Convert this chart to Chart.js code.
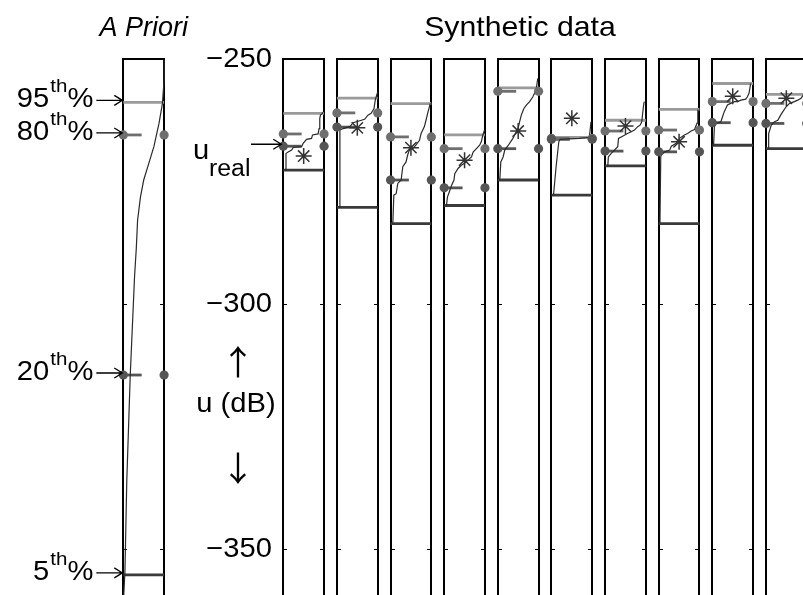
<!DOCTYPE html>
<html><head><meta charset="utf-8">
<script src="https://cdn.jsdelivr.net/npm/chart.js@4.4.1/dist/chart.umd.min.js"></script>
<style>html,body{margin:0;padding:0;background:#fff;overflow:hidden}#wrap{width:803px;height:595px;position:relative}</style>
</head><body><div id="wrap"><canvas id="c" width="803" height="595"></canvas></div>
<script>
// ---------- data ----------
const categories = ['A Priori','1','2','3','4','5','6','7','8','9','10'];
const slots = [-2.983,0,1,2,3,4,5,6,7,8,9];           // panel positions (panel units)
const pct95 = [-258.85,-261.1,-258.0,-259.1,-265.5,-255.9,-266.0,-262.5,-260.3,-255.0,-257.2];
const pct80 = [-265.5,-265.3,-261.0,-265.9,-268.3,-256.6,-266.2,-264.7,-264.5,-258.7,-259.06];
const pct20 = [-314.5,-267.8,-263.9,-274.7,-276.3,-268.3,-266.4,-268.8,-268.95,-263.0,-263.15];
const pct05 = [-355.3,-272.7,-280.3,-283.6,-279.9,-274.7,-277.8,-271.8,-283.6,-267.6,-268.3];
const uStar = [null,-269.8,-264.05,-268.1,-270.65,-264.7,-262.1,-263.7,-266.9,-257.6,-258.0];
const uReal = -267.4;
const yTicks = [-250,-300,-350];
const yTickLabels = ['\u2212250','\u2212300','\u2212350'];
const pctLabels = ['95','80','20','5'];

// cumulative curves: [probability, u (dB)]
const curvePrior = [[0.01,-359.6],[0.04,-354.5],[0.085,-336.1],[0.17,-314.5],[0.275,-294.5],[0.32,-288.4],[0.35,-282.9],[0.42,-278.2],[0.5,-274.7],[0.625,-271.3],[0.75,-267.9],[0.875,-263.15],[0.96,-259.06],[1.0,-254.3],[1.0,-250.2]];
const curve1 = [[0.066,-272.7],[0.066,-269.3],[0.12,-268.96],[0.205,-268.6],[0.244,-268.06],[0.449,-267.9],[0.488,-267.2],[0.571,-266.4],[0.693,-266.2],[0.717,-265.5],[0.854,-265.3],[0.878,-264.2],[0.895,-262.1],[0.912,-261.45],[0.96,-261.1],[0.976,-260.8]];
const curve2 = [[0.056,-280.3],[0.073,-264.5],[0.154,-264.2],[0.317,-263.8],[0.398,-263.0],[0.56,-262.6],[0.68,-262.3],[0.76,-261.45],[0.84,-261.1],[0.91,-260.1],[0.94,-258.4],[1.0,-256.7]];
const curve3 = [[0.056,-283.6],[0.08,-277.8],[0.137,-277.5],[0.178,-275.4],[0.259,-274.7],[0.3,-272.0],[0.38,-271.0],[0.42,-269.6],[0.46,-268.6],[0.54,-268.3],[0.62,-267.6],[0.71,-266.6],[0.75,-265.2],[0.83,-263.8],[0.87,-262.5],[0.91,-261.1],[0.976,-259.06]];
const curve4 = [[0.056,-279.9],[0.08,-278.2],[0.14,-276.8],[0.18,-275.8],[0.24,-274.7],[0.26,-273.4],[0.34,-272.35],[0.42,-271.7],[0.5,-271.3],[0.585,-270.65],[0.67,-270.0],[0.71,-269.0],[0.79,-268.3],[0.87,-267.6],[0.91,-266.9],[0.95,-265.5],[0.99,-264.5]];
const curve5 = [[0.049,-274.7],[0.073,-271.0],[0.13,-270.0],[0.17,-268.6],[0.25,-267.7],[0.37,-266.2],[0.43,-265.2],[0.495,-264.2],[0.536,-262.8],[0.576,-261.45],[0.64,-260.1],[0.70,-259.4],[0.78,-258.7],[0.86,-257.7],[0.94,-256.3],[0.98,-253.95]];
const curve6 = [[0.05,-277.8],[0.114,-272.0],[0.18,-266.9],[0.21,-266.4],[0.68,-266.2],[0.93,-266.0],[0.97,-262.8]];
const curve7 = [[0.066,-272.0],[0.08,-270.0],[0.146,-269.3],[0.23,-268.6],[0.31,-267.9],[0.33,-266.2],[0.43,-265.75],[0.55,-265.2],[0.63,-264.9],[0.72,-264.5],[0.80,-263.8],[0.86,-263.5],[0.90,-262.8],[0.94,-259.75],[0.96,-258.7]];
const curve8 = [[0.03,-283.6],[0.05,-270.0],[0.063,-269.6],[0.146,-268.95],[0.27,-268.6],[0.31,-267.8],[0.43,-267.2],[0.51,-266.2],[0.63,-265.5],[0.71,-265.2],[0.795,-264.7],[0.88,-264.4],[0.94,-263.1],[0.96,-260.3]];
const curve9 = [[0.03,-267.6],[0.05,-263.85],[0.09,-263.15],[0.21,-262.8],[0.25,-261.8],[0.29,-260.8],[0.33,-260.1],[0.37,-259.4],[0.45,-259.06],[0.54,-258.7],[0.62,-258.7],[0.70,-258.4],[0.82,-258.2],[0.86,-257.7],[0.90,-257.0],[0.94,-255.0]];
const curve10 = [[0.05,-268.3],[0.066,-265.2],[0.13,-263.5],[0.21,-262.8],[0.29,-262.5],[0.36,-261.45],[0.41,-260.8],[0.495,-259.75],[0.58,-259.06],[0.70,-258.7],[0.78,-258.4],[0.86,-258.0],[0.93,-257.2],[0.97,-256.0]];
const curves = [curvePrior,curve1,curve2,curve3,curve4,curve5,curve6,curve7,curve8,curve9,curve10];

// ---------- layout / style ----------
const panelW = 0.76, shortP = 0.45;
const X_MIN = -5.2825, X_MAX = 9.6905, Y_MAX = -250, Y_MIN = -359.4;
const C95 = '#9a9a9a', C80 = '#6f6f6f', C20 = '#555555', C05 = '#3a3a3a', CCURVE = '#2a2a2a';
const FONT = '"Liberation Sans", Arial, Helvetica, sans-serif';
const SX = 1.08;

const datasets = [];
function line(pts, color, w, order){
  datasets.push({data: pts, showLine:true, borderColor:color, borderWidth:w, pointRadius:0, pointHoverRadius:0, tension:0, order, borderCapStyle:'butt'});
}
function dots(pts, color, order){
  datasets.push({data: pts, showLine:false, backgroundColor:color, borderWidth:0, pointRadius:4.6, order});
}
slots.forEach((s,i)=>{
  const px = p => s + p*panelW;
  line([{x:px(0),y:pct95[i]},{x:px(1),y:pct95[i]}], C95, 2.8, 5);
  line([{x:px(0),y:pct05[i]},{x:px(1),y:pct05[i]}], C05, 2.8, 5);
  line([{x:px(0),y:pct80[i]},{x:px(shortP),y:pct80[i]}], C80, 2.8, 4);
  line([{x:px(0),y:pct20[i]},{x:px(shortP),y:pct20[i]}], C20, 2.8, 4);
  line(curves[i].map(([p,u])=>({x:px(p),y:u})), CCURVE, 1.2, 3);
  dots([{x:px(0),y:pct80[i]},{x:px(1),y:pct80[i]}], C80, 2);
  dots([{x:px(0),y:pct20[i]},{x:px(1),y:pct20[i]}], C20, 1);
  if (uStar[i] !== null) {
    datasets.push({data:[{x:px(0.5),y:uStar[i]}], showLine:false, pointStyle:'star', pointRadius:8, borderColor:'#333', borderWidth:1.5, backgroundColor:'#333', order:0});
  }
});

function arrow(ctx, x1, y, x2){
  ctx.beginPath(); ctx.moveTo(x1,y); ctx.lineTo(x2,y);
  ctx.moveTo(x2-8,y-5); ctx.lineTo(x2,y); ctx.lineTo(x2-8,y+5); ctx.stroke();
}
function txt(ctx, s, x, y, font, align, base, sx){
  ctx.save(); ctx.font = font; ctx.textAlign = align || 'left'; ctx.textBaseline = base || 'alphabetic';
  ctx.translate(x, y); ctx.scale(sx === undefined ? SX : sx, 1); ctx.fillText(s, 0, 0); ctx.restore();
}
function tw(ctx, s, font, sx){ ctx.save(); ctx.font = font; const w = ctx.measureText(s).width; ctx.restore(); return w*(sx === undefined ? SX : sx); }

const framePlugin = {
  id:'frames',
  beforeDatasetsDraw(chart){
    const {ctx, scales:{x,y}} = chart;
    ctx.save();
    ctx.strokeStyle = '#000';
    slots.forEach(s=>{
      const l = Math.round(x.getPixelForValue(s)), r = Math.round(x.getPixelForValue(s+panelW));
      const t = y.getPixelForValue(Y_MAX), b = y.getPixelForValue(Y_MIN)+5;
      ctx.lineWidth = 2;
      ctx.beginPath(); ctx.moveTo(l,b); ctx.lineTo(l,t); ctx.lineTo(r,t); ctx.lineTo(r,b); ctx.stroke();
      ctx.lineWidth = 1;
      yTicks.forEach(v=>{
        const py = Math.round(y.getPixelForValue(v))+0.5;
        ctx.beginPath(); ctx.moveTo(l,py); ctx.lineTo(l+4,py); ctx.moveTo(r,py); ctx.lineTo(r-4,py); ctx.stroke();
      });
    });
    ctx.restore();
  },
  afterDraw(chart){
    const {ctx, scales:{x,y}} = chart;
    ctx.save();
    ctx.fillStyle = '#000'; ctx.strokeStyle = '#000'; ctx.lineWidth = 1.3;
    const F27 = '27px ' + FONT, F24 = '23px ' + FONT, F19 = '19px ' + FONT;
    // titles
    txt(ctx, categories[0], x.getPixelForValue(slots[0]+panelW/2), 36, 'italic 27px ' + FONT, 'center', 'alphabetic', 1);
    txt(ctx, 'Synthetic data', 520, 36, '28px ' + FONT, 'center');
    // y tick labels
    yTicks.forEach((v,i)=> txt(ctx, yTickLabels[i], 272, y.getPixelForValue(v)+1, F27, 'right', 'middle'));
    // axis label
    txt(ctx, '\u2191', 238, 362, '34px "Noto Sans CJK JP", "DejaVu Sans", sans-serif', 'center', 'middle', 1);
    txt(ctx, 'u (dB)', 236, 405, F27, 'center', 'middle');
    txt(ctx, '\u2193', 238, 468, '34px "Noto Sans CJK JP", "DejaVu Sans", sans-serif', 'center', 'middle', 1);
    // u_real
    const yr = y.getPixelForValue(uReal);
    txt(ctx, 'u', 193, yr+15, F27);
    txt(ctx, 'real', 209, yr+32, F24);
    arrow(ctx, 251, yr, x.getPixelForValue(slots[1])-2);
    // percentile labels for the a priori panel
    const prior = [pct95[0], pct80[0], pct20[0], pct05[0]];
    const left = x.getPixelForValue(slots[0]);
    prior.forEach((v,i)=>{
      const py = y.getPixelForValue(v) - 2;
      const wNum = tw(ctx, pctLabels[i], F27), wTh = tw(ctx, 'th', F19), wPct = tw(ctx, '%', F27);
      const end = left - 30;
      const xs = end - wPct - wTh - wNum - 1;
      txt(ctx, pctLabels[i], xs, py+7, F27);
      txt(ctx, 'th', xs+wNum+1, py-8, F19);
      txt(ctx, '%', xs+wNum+wTh+1, py+7, F27);
      arrow(ctx, end+3, py, left-1);
    });
    ctx.restore();
  }
};

new Chart(document.getElementById('c'), {
  type:'scatter',
  data:{datasets},
  options:{
    responsive:false, animation:false, devicePixelRatio:1,
    layout:{autoPadding:false, padding:{top:59,left:0,right:0,bottom:0}},
    plugins:{legend:{display:false}, tooltip:{enabled:false}},
    scales:{
      x:{type:'linear', display:false, min:X_MIN, max:X_MAX},
      y:{type:'linear', display:false, min:Y_MIN, max:Y_MAX}
    }
  },
  plugins:[framePlugin]
});
</script></body></html>
